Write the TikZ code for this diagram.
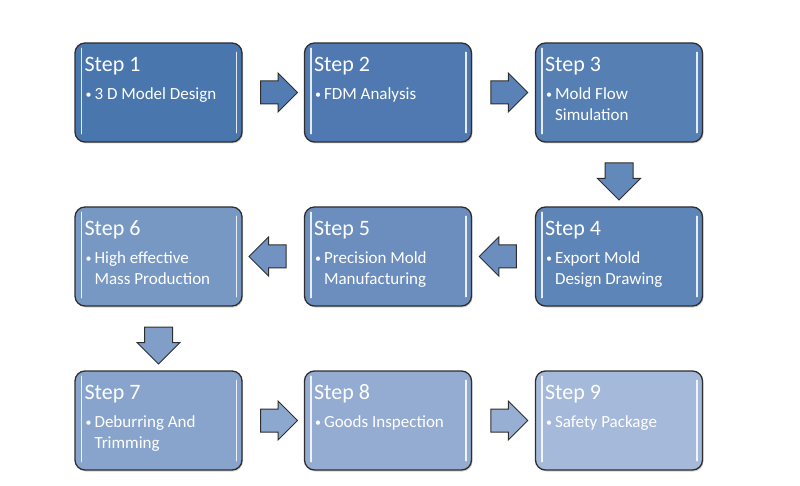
\documentclass[tikz,border=0pt]{standalone}
\usepackage{fontspec}
\setmainfont{Carlito}
\usetikzlibrary{shapes.arrows,shadows,calc}
\definecolor{stepdark}{HTML}{4A76AE}
\definecolor{steplight}{HTML}{A5B9DA}
\definecolor{edgegray}{HTML}{2E2E2E}
\begin{document}
\begin{tikzpicture}[x=1pt,y=-1pt,
  box/.style={draw=edgegray, line width=1.3pt, rounded corners=10pt,
    minimum width=167pt, minimum height=99pt,
    drop shadow={shadow xshift=1pt,shadow yshift=-1.5pt,opacity=0.35}},
  shine/.style={white, line width=1.6pt, line cap=round, opacity=0.85},
  blockarrow/.style={single arrow, draw=edgegray, line width=1pt,
    inner xsep=0pt, inner ysep=11pt, minimum height=37pt,
    single arrow head extend=8pt},
  downarrow/.style={blockarrow, shape border rotate=270,
    inner xsep=13.5pt, inner ysep=0pt, single arrow head extend=7.5pt},
  title/.style={text=white, font=\fontsize{22}{26}\selectfont, anchor=base west, inner sep=0pt},
  body/.style={text=white, font=\fontsize{17}{21}\selectfont, anchor=base west, inner sep=0pt},
  dot/.style={text=white, font=\fontsize{12}{12}\selectfont, anchor=base west, inner sep=0pt}]
\useasboundingbox (0,0) rectangle (800,486);
\newcommand\stepbox[6]{
\node[box, fill=stepdark!#4!steplight] (#1) at (#2,#3) {};
\draw[shine] ($(#1.north west)+(7,6)$) -- ($(#1.south west)+(7,-9)$);
\draw[shine] ($(#1.north east)+(-6,10)$) -- ($(#1.south east)+(-6,-10)$);
\node[title] (#1t) at ($(#1.north west)+(10,29)$) {#5};
\node[dot] (#1b) at ($(#1.north west)+(11,56)$) {\textbullet};
\node[body] (#1x) at ($(#1.north west)+(20,57)$) {\parbox[t]{145pt}{#6}};
}
% row 1
\stepbox{s1}{158.5}{92.5}{100}{Step 1}{3 D Model Design}
\stepbox{s2}{388}{92.5}{95}{Step 2}{FDM Analysis}
\stepbox{s3}{619}{92.5}{87}{Step 3}{Mold Flow\\Simulation}
% row 2
\stepbox{s4}{619}{256.5}{78}{Step 4}{Export Mold\\Design Drawing}
\stepbox{s5}{388}{256.5}{64}{Step 5}{Precision Mold\\Manufacturing}
\stepbox{s6}{158.5}{256.5}{49}{Step 6}{High effective\\Mass Production}
% row 3
\stepbox{s7}{158.5}{420.5}{32}{Step 7}{Deburring And\\Trimming}
\stepbox{s8}{388}{420.5}{19}{Step 8}{Goods Inspection}
\stepbox{s9}{619}{420.5}{0}{Step 9}{Safety Package}
% arrows
\node[blockarrow, fill=stepdark!90!steplight] (a12) at ($(s1.east)!0.5!(s2.west)$) {};
\node[blockarrow, fill=stepdark!82!steplight] (a23) at ($(s2.east)!0.5!(s3.west)$) {};
\node[downarrow, fill=stepdark!72!steplight] (a34) at ($(s3.south)!0.5!(s4.north)$) {};
\node[blockarrow, fill=stepdark!64!steplight, shape border rotate=180] (a45) at ($(s4.west)!0.5!(s5.east)$) {};
\node[blockarrow, fill=stepdark!56!steplight, shape border rotate=180] (a56) at ($(s5.west)!0.5!(s6.east)$) {};
\node[downarrow, fill=stepdark!40!steplight] (a67) at ($(s6.south)!0.5!(s7.north)$) {};
\node[blockarrow, fill=stepdark!26!steplight] (a78) at ($(s7.east)!0.5!(s8.west)$) {};
\node[blockarrow, fill=stepdark!15!steplight] (a89) at ($(s8.east)!0.5!(s9.west)$) {};
\end{tikzpicture}
\end{document}
